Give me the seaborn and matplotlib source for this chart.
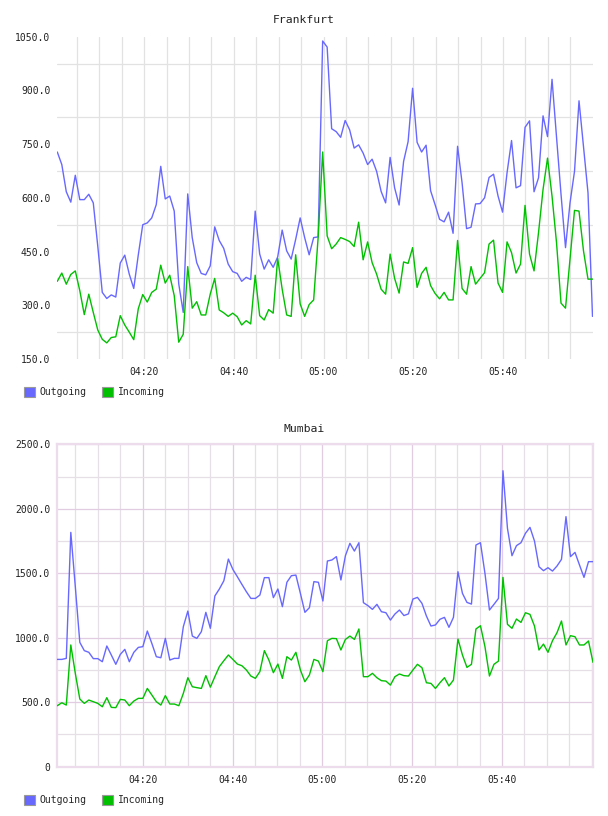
import numpy as np
import pandas as pd
import matplotlib
matplotlib.use("Agg")
import matplotlib.pyplot as plt
import matplotlib.dates as mdates
from matplotlib.patches import Patch
from matplotlib.ticker import FixedLocator, FuncFormatter
import seaborn as sns

# ---------------- data ----------------
series_names = ["Outgoing", "Incoming"]
series_colors = ["#6868ff", "#00c000"]

fra_title = "Frankfurt"
fra_start, fra_end = "2024-01-01 04:00:38", "2024-01-01 05:59:58"
fra_out = [728, 693, 617, 588, 663, 595, 595, 610, 586, 465,
           336, 319, 329, 323, 418, 440, 387, 347, 440, 525,
           530, 544, 581, 688, 597, 605, 563, 360, 280, 611,
           489, 419, 389, 385, 410, 519, 481, 459, 415, 394,
           389, 367, 378, 372, 563, 443, 401, 427, 406, 435,
           510, 452, 429, 484, 544, 489, 441, 489, 491, 1038,
           1021, 793, 785, 769, 816, 790, 739, 748, 725, 693,
           708, 674, 618, 586, 713, 628, 580, 702, 757, 906,
           755, 728, 747, 620, 581, 540, 533, 560, 501, 744,
           642, 514, 518, 583, 584, 600, 657, 666, 605, 560,
           670, 760, 628, 634, 797, 815, 617, 656, 829, 771,
           931, 770, 610, 461, 586, 674, 871, 743, 614, 269]
fra_in = [367, 390, 359, 386, 396, 341, 274, 331, 280, 231,
          205, 195, 210, 212, 271, 245, 225, 204, 290, 330,
          309, 336, 345, 412, 362, 384, 327, 197, 219, 408,
          292, 310, 273, 273, 331, 375, 287, 279, 269, 278,
          268, 245, 257, 248, 384, 271, 259, 288, 278, 431,
          345, 273, 269, 441, 304, 269, 302, 315, 490, 728,
          494, 458, 471, 489, 484, 478, 464, 532, 427, 477,
          419, 387, 345, 331, 443, 375, 334, 421, 417, 461,
          350, 389, 406, 355, 333, 318, 336, 315, 315, 481,
          347, 331, 408, 359, 375, 391, 471, 482, 362, 336,
          477, 447, 390, 415, 579, 443, 396, 503, 623, 711,
          605, 475, 306, 292, 429, 565, 563, 452, 373, 373]
fra_yticks = [150, 300, 450, 600, 750, 900, 1050]

mum_title = "Mumbai"
mum_start, mum_end = "2024-01-01 04:00:58", "2024-01-01 06:00:16"
mum_out = [832, 832, 840, 1817, 1396, 964, 900, 887, 838, 838,
           814, 936, 866, 794, 871, 910, 814, 887, 925, 931,
           1052, 956, 853, 845, 995, 827, 840, 840, 1086, 1207,
           1013, 995, 1047, 1197, 1073, 1324, 1378, 1442, 1610, 1530,
           1473, 1414, 1357, 1305, 1305, 1331, 1466, 1466, 1311, 1378,
           1241, 1430, 1481, 1486, 1344, 1197, 1233, 1435, 1430, 1285,
           1595, 1603, 1629, 1448, 1636, 1732, 1672, 1737, 1272, 1249,
           1220, 1259, 1202, 1194, 1137, 1184, 1215, 1172, 1185, 1300,
           1313, 1267, 1168, 1091, 1099, 1143, 1158, 1081, 1158, 1512,
           1344, 1274, 1261, 1719, 1737, 1499, 1215, 1259, 1305, 2295,
           1848, 1636, 1714, 1737, 1810, 1856, 1750, 1551, 1520, 1543,
           1517, 1556, 1608, 1939, 1629, 1662, 1564, 1468, 1590, 1590]
mum_in = [473, 496, 478, 944, 724, 525, 491, 517, 504, 491,
          465, 535, 460, 458, 522, 517, 473, 509, 530, 530,
          607, 556, 504, 478, 551, 486, 486, 473, 569, 690,
          620, 613, 607, 706, 617, 698, 776, 822, 866, 832,
          796, 783, 750, 703, 685, 737, 900, 827, 729, 796,
          685, 853, 827, 887, 750, 659, 711, 832, 819, 737,
          977, 995, 993, 905, 987, 1013, 987, 1068, 698, 698,
          724, 690, 667, 664, 633, 698, 719, 706, 703, 750,
          794, 768, 651, 646, 607, 651, 690, 626, 672, 990,
          866, 770, 794, 1068, 1093, 931, 703, 794, 819, 1468,
          1104, 1073, 1145, 1119, 1194, 1181, 1091, 905, 951, 887,
          977, 1039, 1130, 944, 1016, 1008, 944, 944, 975, 809]
mum_yticks = [0, 500, 1000, 1500, 2000, 2500]

time_ticks = ["04:20", "04:40", "05:00", "05:20", "05:40"]
day = "2024-01-01"

# ---------------- style ----------------
sns.set_style("white")
plt.rcParams["font.family"] = ["DejaVu Sans Mono", "DejaVu Sans"]

W, H = 608, 816
fig = plt.figure(figsize=(W / 100, H / 100), dpi=100)


def build_df(start, end, out_vals, in_vals):
    t = pd.date_range(start, end, periods=len(out_vals))
    return pd.DataFrame({
        "time": list(t) + list(t),
        "value": list(out_vals) + list(in_vals),
        "series": [series_names[0]] * len(t) + [series_names[1]] * len(t),
    })


def fmt_y(v, _):
    return "0" if v == 0 else f"{v:.1f}"


def draw(rect, df, yticks, title, title_y, legend_y, framed):
    ax = fig.add_axes(rect)
    sns.lineplot(data=df, x="time", y="value", hue="series",
                 hue_order=series_names, palette=series_colors,
                 linewidth=1.0, legend=False, ax=ax, zorder=3)
    ax.set_xlim(df["time"].min(), df["time"].max())
    ax.set_ylim(yticks[0], yticks[-1])
    ax.set_xlabel("")
    ax.set_ylabel("")

    major_t = [mdates.date2num(pd.Timestamp(f"{day} {s}")) for s in time_ticks]
    ax.xaxis.set_major_locator(FixedLocator(major_t))
    ax.xaxis.set_major_formatter(mdates.DateFormatter("%H:%M"))
    ax.xaxis.set_minor_locator(mdates.MinuteLocator(byminute=range(0, 60, 5)))
    ax.yaxis.set_major_locator(FixedLocator(yticks))
    ax.yaxis.set_major_formatter(FuncFormatter(fmt_y))
    step = yticks[1] - yticks[0]
    ax.yaxis.set_minor_locator(FixedLocator([v + step / 2 for v in yticks[:-1]]))

    ax.tick_params(axis="both", which="both", length=0, labelsize=7,
                   colors="#222222")
    ax.tick_params(axis="y", pad=5)
    ax.tick_params(axis="x", pad=6)

    if framed:
        for s in ax.spines.values():
            s.set_visible(True)
            s.set_color("#ecdcec")
            s.set_linewidth(1.6)
        ax.grid(True, which="major", axis="both", color="#e2cce2", linewidth=0.9, zorder=0)
        ax.grid(True, which="minor", axis="both", color="#e6e0e6", linewidth=0.9, zorder=0)
    else:
        for s in ax.spines.values():
            s.set_visible(False)
        ax.grid(True, which="major", axis="x", color="#e2e2e2", linewidth=0.9, zorder=0)
        ax.grid(True, which="minor", axis="x", color="#e2e2e2", linewidth=0.9, zorder=0)
        ax.grid(False, which="major", axis="y")
        ax.grid(True, which="minor", axis="y", color="#e2e2e2", linewidth=0.9, zorder=0)
    ax.set_axisbelow(True)

    fig.text(304 / W, 1 - title_y / H, title, ha="center", va="center",
             fontsize=8.2, color="#222222")
    handles = [Patch(facecolor=c, edgecolor="#999999", linewidth=0.8, label=n)
               for n, c in zip(series_names, series_colors)]
    fig.legend(handles=handles, loc="center left",
               bbox_to_anchor=(24 / W, 1 - legend_y / H), ncol=2,
               frameon=False, fontsize=7, handlelength=1.15, handleheight=1.15,
               handletextpad=0.45, columnspacing=1.6, borderaxespad=0,
               borderpad=0)
    return ax


fra_df = build_df(fra_start, fra_end, fra_out, fra_in)
mum_df = build_df(mum_start, mum_end, mum_out, mum_in)

draw([57.3 / W, 1 - 359 / H, (592.5 - 57.3) / W, 322.3 / H], fra_df,
     fra_yticks, fra_title, 20, 392, framed=False)
draw([57.3 / W, 1 - 766.7 / H, (593.0 - 57.3) / W, 322.4 / H], mum_df,
     mum_yticks, mum_title, 429, 800, framed=True)

fig.savefig("out.png", dpi=100)
